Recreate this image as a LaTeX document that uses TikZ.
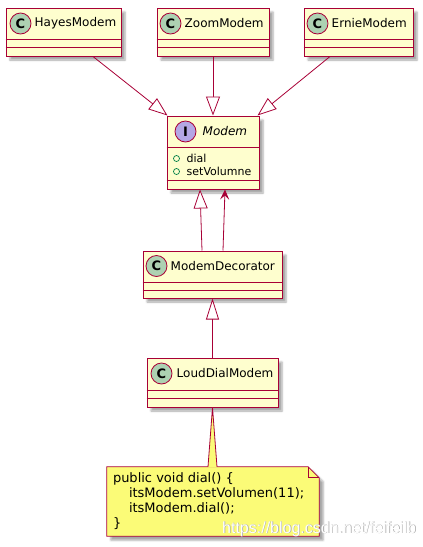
\documentclass[tikz,border=0pt]{standalone}
\usepackage{fontspec}
\setmainfont{DejaVu Sans}
\newfontfamily\wmfont{Liberation Sans}
\usetikzlibrary{arrows.meta,shadows.blur}
\definecolor{umlred}{HTML}{A80036}
\definecolor{umlfill}{HTML}{FEFECE}
\definecolor{notefill}{HTML}{FBFB77}
\definecolor{cgreen}{HTML}{ADD1B2}
\definecolor{ipurple}{HTML}{B4A7E5}
\definecolor{attrgreen}{HTML}{038048}
\begin{document}
\begin{tikzpicture}[x=1pt,y=-1pt,
  shad/.style={blur shadow={shadow xshift=4pt,shadow yshift=-4pt,shadow blur radius=2pt,shadow opacity=35}},
  classbox/.style={draw=umlred,line width=1pt,fill=umlfill,inner sep=0pt,shad},
  sep/.style={draw=umlred,line width=1pt},
  ccircle/.style={circle,draw=umlred,line width=0.8pt,fill=cgreen,minimum size=21pt,inner sep=0pt,font=\fontsize{13}{13}\selectfont\bfseries},
  icircle/.style={ccircle,fill=ipurple},
  cname/.style={anchor=west,inner sep=0pt,font=\fontsize{12}{14}\selectfont},
  attr/.style={anchor=west,inner sep=0pt,font=\fontsize{11}{13}\selectfont},
  attrdot/.style={circle,draw=attrgreen,line width=0.7pt,minimum size=6pt,inner sep=0pt},
  conn/.style={draw=umlred,line width=0.8pt},
  inh/.style={conn,-{Triangle[length=19pt,width=14pt,fill=white]}},
  assoc/.style={conn,-{Stealth[length=10pt,width=9pt,inset=4pt]}}
]
\useasboundingbox (0,0) rectangle (423,547);

% top classes
\node[classbox,minimum width=115pt,minimum height=48pt] (hayes) at (63.5,32) {};
\node[classbox,minimum width=112pt,minimum height=48pt] (zoom) at (213,32) {};
\node[classbox,minimum width=109pt,minimum height=48pt] (ernie) at (358.5,32) {};
\foreach \n in {hayes,zoom,ernie}{
  \draw[sep] ([yshift=-32pt]\n.north west) -- ([yshift=-32pt]\n.north east);
  \draw[sep] ([yshift=-40pt]\n.north west) -- ([yshift=-40pt]\n.north east);
}
\node[ccircle] (hayesC) at ([xshift=15pt,yshift=-16pt]hayes.north west) {C};
\node[cname] (hayesN) at ([xshift=29pt,yshift=-16pt]hayes.north west) {HayesModem};
\node[ccircle] (zoomC) at ([xshift=14pt,yshift=-16pt]zoom.north west) {C};
\node[cname] (zoomN) at ([xshift=28pt,yshift=-16pt]zoom.north west) {ZoomModem};
\node[ccircle] (ernieC) at ([xshift=14pt,yshift=-16pt]ernie.north west) {C};
\node[cname] (ernieN) at ([xshift=28pt,yshift=-16pt]ernie.north west) {ErnieModem};

% Modem interface
\node[classbox,minimum width=92pt,minimum height=73pt] (modem) at (213,152.5) {};
\draw[sep] ([yshift=-32pt]modem.north west) -- ([yshift=-32pt]modem.north east);
\draw[sep] ([yshift=-65pt]modem.north west) -- ([yshift=-65pt]modem.north east);
\node[icircle] (modemI) at ([xshift=19pt,yshift=-16pt]modem.north west) {I};
\node[cname,font=\fontsize{12}{14}\selectfont\itshape] (modemN) at ([xshift=36pt,yshift=-16pt]modem.north west) {Modem};
\node[attrdot] (d1) at ([xshift=10pt,yshift=-43pt]modem.north west) {};
\node[attr] (a1) at ([xshift=20pt,yshift=-43pt]modem.north west) {dial};
\node[attrdot] (d2) at ([xshift=10pt,yshift=-56pt]modem.north west) {};
\node[attr] (a2) at ([xshift=20pt,yshift=-56pt]modem.north west) {setVolumne};

% ModemDecorator
\node[classbox,minimum width=139pt,minimum height=47pt] (deco) at (212.5,274.5) {};
\draw[sep] ([yshift=-32pt]deco.north west) -- ([yshift=-32pt]deco.north east);
\draw[sep] ([yshift=-39.5pt]deco.north west) -- ([yshift=-39.5pt]deco.north east);
\node[ccircle] (decoC) at ([xshift=14pt,yshift=-15.5pt]deco.north west) {C};
\node[cname] (decoN) at ([xshift=28pt,yshift=-15.5pt]deco.north west) {ModemDecorator};

% LoudDialModem
\node[classbox,minimum width=131pt,minimum height=49pt] (loud) at (212.5,382.5) {};
\draw[sep] ([yshift=-33pt]loud.north west) -- ([yshift=-33pt]loud.north east);
\draw[sep] ([yshift=-41pt]loud.north west) -- ([yshift=-41pt]loud.north east);
\node[ccircle] (loudC) at ([xshift=15pt,yshift=-16pt]loud.north west) {C};
\node[cname] (loudN) at ([xshift=30pt,yshift=-16pt]loud.north west) {LoudDialModem};

% connectors
\draw[inh] ([xshift=29.5pt]hayes.south) -- ([xshift=1pt]modem.north west);
\draw[inh] (zoom.south) -- (modem.north);
\draw[inh] ([xshift=-28.5pt]ernie.south) -- ([xshift=-2pt]modem.north east);
\draw[inh] ([xshift=-10.5pt]deco.north) -- ([xshift=-13pt]modem.south);
\draw[assoc] ([xshift=10.5pt]deco.north) -- ([xshift=12pt]modem.south);
\draw[inh,-{Triangle[length=21pt,width=13pt,fill=white]}] (loud.north) -- (deco.south);

% note
\node[minimum width=212pt,minimum height=69pt,inner sep=0pt] (note) at (213,501.5) {};
\filldraw[draw=umlred,line width=0.8pt,fill=notefill,shad]
  (note.north west) -- ([xshift=-11pt]note.north east) -- ([yshift=-11pt]note.north east)
  -- (note.south east) -- (note.south west) -- cycle;
\draw[draw=umlred,line width=0.8pt] ([xshift=-11pt]note.north east) -- ([xshift=-11pt,yshift=-11pt]note.north east) -- ([yshift=-11pt]note.north east);
\fill[notefill] (loud.south) -- ([xshift=-5pt,yshift=-0.6pt]note.north) -- ([xshift=4pt,yshift=-0.6pt]note.north) -- cycle;
\draw[conn] ([xshift=-5pt]note.north) -- (loud.south) -- ([xshift=4pt]note.north);
\node[anchor=north west,inner sep=0pt,align=left,font=\fontsize{13}{15}\selectfont] (notetext) at ([xshift=6pt,yshift=-6pt]note.north west)
  {public void dial() \{\\\hspace*{16pt}itsModem.setVolumen(11);\\\hspace*{16pt}itsModem.dial();\\\}};

% watermark
\node[anchor=base west,inner sep=0pt,font=\wmfont\fontsize{16}{16}\selectfont,text=black!35] (wmshadow) at (222.6,533.6) {https://blog.csdn.net/feifeilb};
\node[anchor=base west,inner sep=0pt,font=\wmfont\fontsize{16}{16}\selectfont,text=white] (wm) at (222,533) {https://blog.csdn.net/feifeilb};
\end{tikzpicture}
\end{document}
